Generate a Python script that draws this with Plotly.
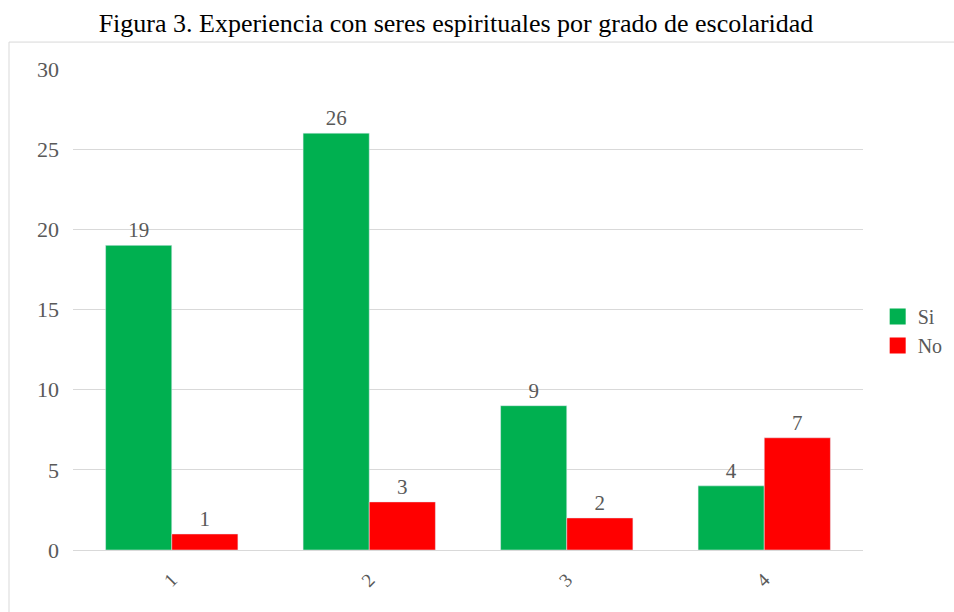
import plotly.graph_objects as go

categories = ["1", "2", "3", "4"]
si_values = [19, 26, 9, 4]
no_values = [1, 3, 2, 7]
y_ticks = [0, 5, 10, 15, 20, 25, 30]
series_names = ["Si", "No"]
series_colors = ["#00B050", "#FF0000"]

SERIF = "Liberation Serif, Times New Roman, serif"
LABEL_FONT = dict(family=SERIF, size=21, color="#595959")

fig = go.Figure()
for name, values, color in zip(series_names, [si_values, no_values], series_colors):
    fig.add_trace(go.Bar(
        name=name, x=categories, y=values, marker_color=color,
        text=values, textposition="outside", cliponaxis=False,
        textfont=LABEL_FONT, showlegend=False, legendgroup=name,
    ))

# legend entries with larger square swatches
for name, color in zip(series_names, series_colors):
    fig.add_trace(go.Scatter(
        name=name, x=[None], y=[None], mode="markers",
        marker=dict(symbol="square", size=16, color=color),
        legendgroup=name, showlegend=True,
    ))

# outer frame around the chart body
fig.add_shape(type="rect", xref="paper", yref="paper",
              x0=-0.081, x1=1.2, y0=-0.3, y1=1.056,
              line=dict(color="#D9D9D9", width=1), layer="below")

fig.update_layout(
    width=954, height=612,
    margin=dict(l=73, r=91, t=69, b=62, autoexpand=False),
    paper_bgcolor="white", plot_bgcolor="white",
    barmode="group", bargap=0.33, bargroupgap=0,
    title=dict(text="Figura 3. Experiencia con seres espirituales por grado de escolaridad",
               x=0.478, xanchor="center", xref="container",
               y=0.962, yanchor="middle", yref="container",
               font=dict(family=SERIF, size=26, color="#000000")),
    font=dict(family=SERIF, size=18, color="#595959"),
    legend=dict(x=0.92, y=0.459, xanchor="left", yanchor="middle",
                xref="container", yref="container",
                font=dict(family=SERIF, size=20, color="#595959"),
                itemwidth=30, tracegroupgap=0),
    showlegend=True,
    xaxis=dict(tickangle=-45, showgrid=False, showline=False, ticks="",
               ticklabelstandoff=14,
               tickfont=dict(family=SERIF, size=19, color="#595959")),
    yaxis=dict(range=[0, 30], tickvals=y_ticks, showgrid=True,
               gridcolor="#D9D9D9", gridwidth=1, zeroline=True,
               zerolinecolor="#D9D9D9", zerolinewidth=1, showline=False,
               ticks="", ticklabelstandoff=13,
               tickfont=dict(family=SERIF, size=22, color="#595959")),
)

fig.write_html("out.html")
